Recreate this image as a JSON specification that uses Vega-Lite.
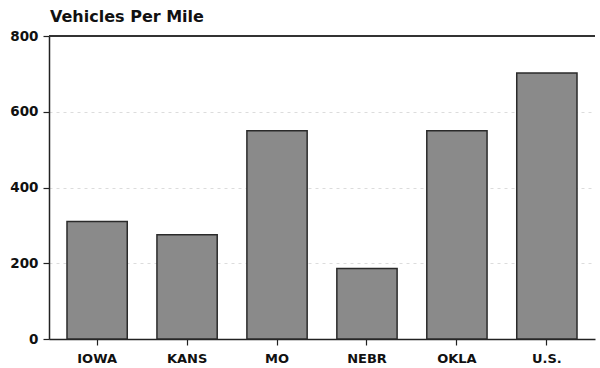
{
  "$schema": "https://vega.github.io/schema/vega-lite/v6.json",
  "width": 546,
  "height": 303,
  "autosize": {"type": "none"},
  "padding": {"left": 49, "top": 36, "right": 5, "bottom": 29},
  "background": "white",
  "title": {
    "text": "Vehicles Per Mile",
    "anchor": "start",
    "frame": "group",
    "font": "DejaVu Sans",
    "fontSize": 16,
    "fontWeight": "bold",
    "color": "#111",
    "offset": 4,
    "dx": 1
  },
  "config": {"view": {"stroke": null}},
  "data": {
    "values": [
      {"state": "IOWA", "vpm": 310},
      {"state": "KANS", "vpm": 275},
      {"state": "MO", "vpm": 550},
      {"state": "NEBR", "vpm": 186},
      {"state": "OKLA", "vpm": 550},
      {"state": "U.S.", "vpm": 702}
    ]
  },
  "layer": [
    {
      "mark": {"type": "bar", "fill": "#8a8a8a", "stroke": "#2a2a2a", "strokeWidth": 1.5},
      "encoding": {
        "x": {
          "field": "state",
          "type": "nominal",
          "sort": null,
          "scale": {"paddingInner": 0.33, "paddingOuter": 0.2},
          "axis": {
            "title": null,
            "labelAngle": 0,
            "labelFont": "DejaVu Sans",
            "labelFontSize": 13,
            "labelFontWeight": "bold",
            "labelColor": "#111",
            "domainColor": "#222",
            "domainWidth": 1.5,
            "tickColor": "#222",
            "tickSize": 6,
            "tickWidth": 1.2,
            "labelPadding": 7
          }
        },
        "y": {
          "field": "vpm",
          "type": "quantitative",
          "scale": {"domain": [0, 800]},
          "axis": {
            "title": null,
            "values": [0, 200, 400, 600, 800],
            "labelFont": "DejaVu Sans",
            "labelFontSize": 13.5,
            "labelFontWeight": "bold",
            "labelColor": "#111",
            "domainColor": "#222",
            "domainWidth": 1.5,
            "tickColor": "#222",
            "tickSize": 6,
            "tickWidth": 1.2,
            "labelPadding": 5,
            "grid": true,
            "gridColor": "#dcdcdc",
            "gridDash": [3, 4],
            "gridWidth": 1
          }
        }
      }
    },
    {
      "mark": {"type": "rule", "color": "#333", "strokeWidth": 1.5},
      "encoding": {"y": {"datum": 800, "type": "quantitative"}}
    }
  ]
}
